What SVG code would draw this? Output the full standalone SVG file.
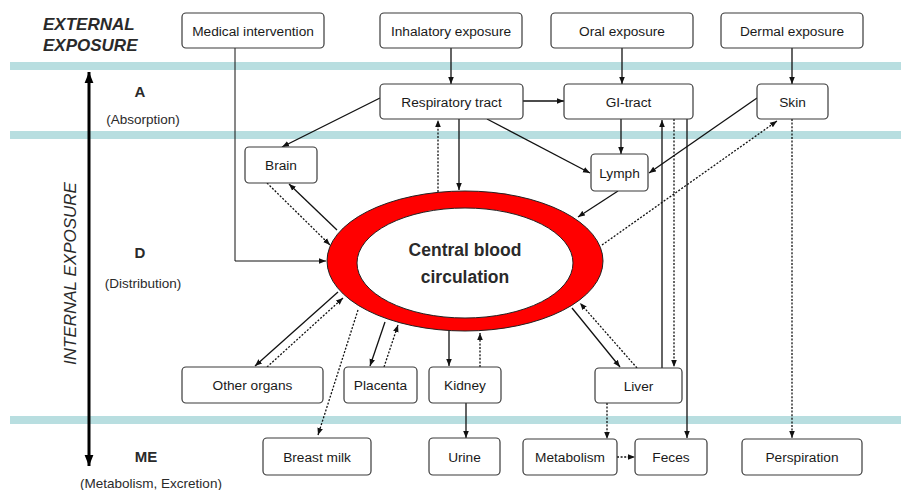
<svg xmlns="http://www.w3.org/2000/svg" width="901" height="490" viewBox="0 0 901 490">
  <style>
    .band { fill: #b8dee0; }
    .box rect { fill: #fff; stroke: #3a3a3a; stroke-width: 1.2; }
    .box text { font-family: "Liberation Sans", Arial, sans-serif; font-size: 13.7px; fill: #1a1a1a; text-anchor: middle; }
    .lbl { font-family: "Liberation Sans", Arial, sans-serif; fill: #2a2a2a; text-anchor: middle; }
    .stage { font-size: 15px; font-weight: bold; }
    .sub { font-size: 13.5px; }
    .zone { font-size: 17px; font-style: italic; text-anchor: start; }
    .c { fill: none; stroke: #111; stroke-width: 1.3; }
    .s { marker-end: url(#ah); }
    .d { stroke-dasharray: 2 1.6; marker-end: url(#ah); }
    .thin { stroke-width: 1; }
  </style>
  <defs>
    <marker id="ah" viewBox="0 0 10 10" refX="10" refY="5" markerWidth="7" markerHeight="7" markerUnits="userSpaceOnUse" orient="auto">
      <path d="M0,1 L10,5 L0,9 z" fill="#111"/>
    </marker>
    <marker id="big" viewBox="0 0 10 10" refX="10" refY="5" markerWidth="11" markerHeight="11" markerUnits="userSpaceOnUse" orient="auto-start-reverse">
      <path d="M0,1 L10,5 L0,9 z" fill="#000"/>
    </marker>
  </defs>

  <rect width="901" height="490" fill="#fff"/>

  <!-- compartment bands -->
  <rect class="band" x="10" y="62" width="891" height="8"/>
  <rect class="band" x="10" y="131" width="891" height="8"/>
  <rect class="band" x="10" y="416" width="891" height="8"/>

  <!-- side labels -->
  <g id="labels">
    <text class="lbl zone" x="43" y="30" font-weight="bold">EXTERNAL</text>
    <text class="lbl zone" x="43" y="51" font-weight="bold">EXPOSURE</text>
    <text class="lbl zone" transform="translate(76,365) rotate(-90)" font-size="17.5">INTERNAL EXPOSURE</text>
    <line x1="89" y1="72" x2="89" y2="466" stroke="#000" stroke-width="3" marker-start="url(#big)" marker-end="url(#big)"/>
    <text class="lbl stage" x="140" y="97">A</text>
    <text class="lbl sub" x="143" y="124">(Absorption)</text>
    <text class="lbl stage" x="140" y="258">D</text>
    <text class="lbl sub" x="143" y="288">(Distribution)</text>
    <text class="lbl stage" x="146" y="462">ME</text>
    <text class="lbl sub" x="151" y="488">(Metabolism, Excretion)</text>
  </g>

  <!-- connectors -->
  <g id="connectors">
    <path class="c s thin" d="M235,48 V261 H326"/>
    <path class="c s" d="M451,48 V84"/>
    <path class="c s" d="M622,48 V84"/>
    <path class="c s" d="M792,48 V84"/>
    <path class="c s" d="M523,101 H564"/>
    <path class="c s" d="M380,98 L282,147"/>
    <path class="c s" d="M459,119 V190"/>
    <path class="c d" d="M438,192 V120"/>
    <path class="c s" d="M487,119 L590,173"/>
    <path class="c s" d="M621,119 V154"/>
    <path class="c s" d="M757,98 L649,173"/>
    <path class="c s" d="M618,191 L578,217"/>
    <path class="c d" d="M602,245 L777,121"/>
    <path class="c d" d="M792,119 V438"/>
    <path class="c s" d="M662,368 V120"/>
    <path class="c d" d="M674,119 V367"/>
    <path class="c s" d="M687,119 V438"/>
    <path class="c s" d="M337,230 L289,184"/>
    <path class="c d" d="M267,183 L330,245"/>
    <path class="c s" d="M338,292 L255,366"/>
    <path class="c d" d="M267,367 L343,298"/>
    <path class="c d" d="M358,310 L318,435"/>
    <path class="c s" d="M385,322 L370,366"/>
    <path class="c d" d="M384,367 L398,325"/>
    <path class="c s" d="M449,330 V366"/>
    <path class="c d" d="M480,367 V333"/>
    <path class="c s" d="M466,403 V438"/>
    <path class="c s" d="M572,308 L620,367"/>
    <path class="c d" d="M637,368 L580,303"/>
    <path class="c d" d="M607,403 V439"/>
    <path class="c d" d="M617,457 H635"/>
  </g>

  <!-- central blood circulation -->
  <g id="circulation">
    <ellipse cx="465" cy="261" rx="138" ry="70" fill="#ff0000" stroke="#222" stroke-width="1"/>
    <ellipse cx="465" cy="263" rx="108" ry="55" fill="#fff" stroke="#222" stroke-width="1"/>
    <text class="lbl" x="465" y="256" font-size="17.5" font-weight="bold" fill="#222">Central blood</text>
    <text class="lbl" x="465" y="283" font-size="17.5" font-weight="bold" fill="#222">circulation</text>
  </g>

  <!-- nodes -->
  <g id="medical" class="box"><rect x="182" y="13" width="142" height="35" rx="4"/><text x="253" y="35.5">Medical intervention</text></g>
  <g id="inhalatory" class="box"><rect x="380" y="13" width="142" height="35" rx="4"/><text x="451" y="35.5">Inhalatory exposure</text></g>
  <g id="oral" class="box"><rect x="551" y="13" width="142" height="35" rx="4"/><text x="622" y="35.5">Oral exposure</text></g>
  <g id="dermal" class="box"><rect x="721" y="13" width="142" height="35" rx="4"/><text x="792" y="35.5">Dermal exposure</text></g>
  <g id="respiratory" class="box"><rect x="380" y="84" width="143" height="35" rx="4"/><text x="451.5" y="106.5">Respiratory tract</text></g>
  <g id="gi" class="box"><rect x="564" y="84" width="129" height="35" rx="4"/><text x="628.5" y="106.5">GI-tract</text></g>
  <g id="skin" class="box"><rect x="757" y="84" width="71" height="35" rx="4"/><text x="792.5" y="106.5">Skin</text></g>
  <g id="brain" class="box"><rect x="245" y="147" width="72" height="36" rx="4"/><text x="281" y="170">Brain</text></g>
  <g id="lymph" class="box"><rect x="591" y="154" width="57" height="37" rx="4"/><text x="619.5" y="177.5">Lymph</text></g>
  <g id="other" class="box"><rect x="182" y="367" width="141" height="36" rx="4"/><text x="252.5" y="390">Other organs</text></g>
  <g id="placenta" class="box"><rect x="344" y="367" width="73" height="36" rx="4"/><text x="380.5" y="390">Placenta</text></g>
  <g id="kidney" class="box"><rect x="429" y="367" width="72" height="36" rx="4"/><text x="465" y="390">Kidney</text></g>
  <g id="liver" class="box"><rect x="595" y="368" width="87" height="35" rx="4"/><text x="638.5" y="390.5">Liver</text></g>
  <g id="breastmilk" class="box"><rect x="263" y="438" width="108" height="37" rx="4"/><text x="317" y="461.5">Breast milk</text></g>
  <g id="urine" class="box"><rect x="429" y="438" width="71" height="37" rx="4"/><text x="464.5" y="461.5">Urine</text></g>
  <g id="metabolism" class="box"><rect x="523" y="439" width="94" height="36" rx="4"/><text x="570" y="462">Metabolism</text></g>
  <g id="feces" class="box"><rect x="635" y="439" width="72" height="36" rx="4"/><text x="671" y="462">Feces</text></g>
  <g id="perspiration" class="box"><rect x="742" y="439" width="120" height="36" rx="4"/><text x="802" y="462">Perspiration</text></g>
</svg>
